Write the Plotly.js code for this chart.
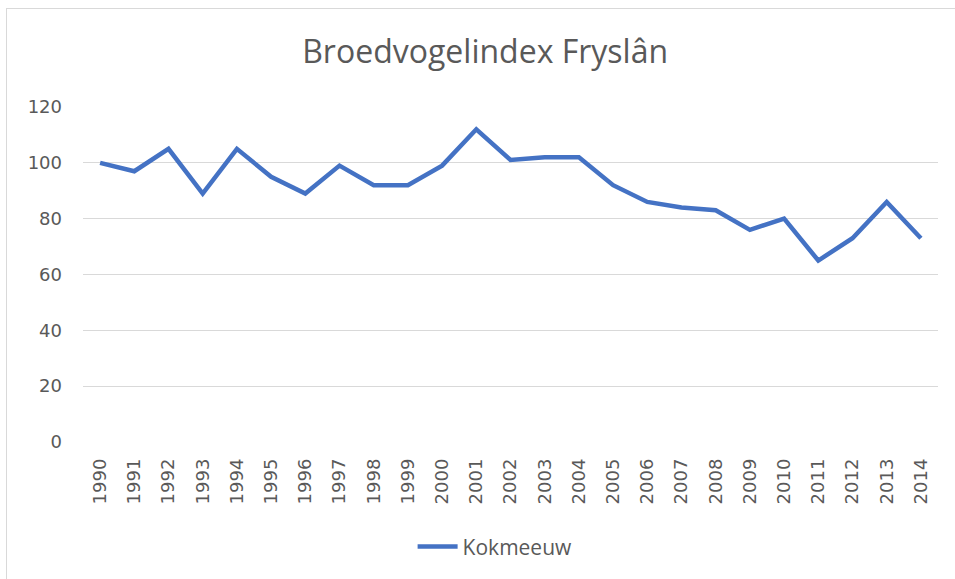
<!DOCTYPE html>
<html>
<head>
<meta charset="utf-8">
<script src="https://cdn.plot.ly/plotly-3.0.1.min.js"></script>
<style>
html,body{margin:0;padding:0;background:#fff;overflow:hidden;}
#frame{position:absolute;left:6px;top:8px;width:960px;height:590px;border:1px solid #d9d9d9;box-sizing:border-box;}
#chart{position:absolute;left:0;top:0;width:955px;height:579px;}
</style>
</head>
<body>
<div id="frame"></div>
<div id="chart"></div>
<script>
const years = ["1990","1991","1992","1993","1994","1995","1996","1997","1998","1999","2000","2001","2002","2003","2004","2005","2006","2007","2008","2009","2010","2011","2012","2013","2014"];
const kokmeeuw = [100,97,105,89,105,95,89,99,92,92,99,112,101,102,102,92,86,84,83,76,80,65,73,86,73];
const yTicks = [0,20,40,60,80,100,120];

const narrow = "Open Sans, sans-serif";
const tickFont = {family: "DejaVu Sans", size: 18, color: "#595959"};

Plotly.newPlot("chart", [{
  x: years, y: kokmeeuw, type: "scatter", mode: "lines", name: "Kokmeeuw",
  line: {color: "#4472C4", width: 4.5}
}], {
  width: 955, height: 579,
  margin: {l: 83, r: 17, t: 107, b: 137},
  paper_bgcolor: "rgba(0,0,0,0)", plot_bgcolor: "rgba(0,0,0,0)",
  title: {text: "Broedvogelindex Fryslân", font: {family: narrow, size: 32, color: "#595959"}, x: 0.508, xanchor: "center", y: 0.91, yanchor: "middle"},
  xaxis: {type: "category", range: [-0.5, 24.5], tickangle: -90, tickfont: tickFont, showgrid: false, zeroline: false, showline: false, ticks: "", ticklabelstandoff: 12, fixedrange: true},
  yaxis: {range: [0, 120], tickvals: yTicks, tickfont: tickFont, gridcolor: "#d9d9d9", gridwidth: 1.3, zeroline: false, showline: false, ticks: "", ticklabelstandoff: 20, fixedrange: true},
  showlegend: true,
  legend: {orientation: "h", x: 0.482, xanchor: "center", y: -0.313, yanchor: "middle", font: {family: narrow, size: 21, color: "#595959"}, itemwidth: 40}
}, {displayModeBar: false, staticPlot: true});
</script>
</body>
</html>
